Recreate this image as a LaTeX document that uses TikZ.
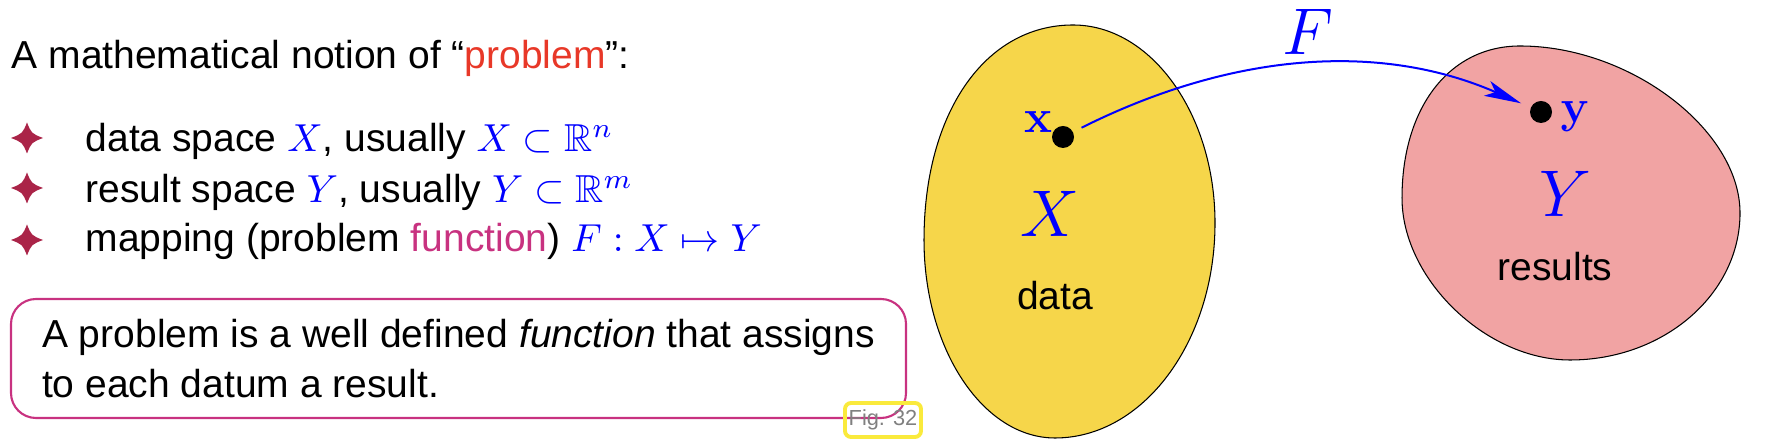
\RequirePackage{fix-cm}
\documentclass[tikz,border=0pt]{standalone}
\usepackage{amssymb}
\usepackage[no-math]{fontspec}
\setmainfont{Liberation Sans}
\usetikzlibrary{arrows.meta}

\definecolor{problemRed}{RGB}{232,56,40}
\definecolor{functionPink}{RGB}{200,50,128}
\definecolor{starRed}{RGB}{170,36,72}
\definecolor{mathBlue}{RGB}{0,0,255}
\definecolor{dataYellow}{RGB}{246,214,74}
\definecolor{resultPink}{RGB}{241,163,163}
\definecolor{tagYellow}{RGB}{250,234,60}

\newcommand{\inblue}[1]{\textcolor{mathBlue}{#1}}

\begin{document}
\begin{tikzpicture}[body/.style={anchor=base west, inner sep=0pt,
                                 font=\fontsize{11.1}{14.2}\selectfont},
                    defbox/.style={draw=functionPink, line width=0.6pt,
                                   rounded corners=0.25cm, align=left,
                                   minimum width=8.95cm, minimum height=1.19cm,
                                   font=\fontsize{11.1}{14.2}\selectfont},
                    figtag/.style={draw=tagYellow, line width=1.1pt,
                                   rounded corners=0.06cm, text=gray,
                                   minimum width=0.76cm, minimum height=0.34cm,
                                   inner sep=0pt, font=\fontsize{6.2}{7}\selectfont},
                    blob/.style={draw=black, line width=0.3pt},
                    dot/.style={circle, fill=black, inner sep=0pt,
                                minimum size=0.22cm},
                    setname/.style={anchor=base, text=mathBlue,
                                    font=\fontsize{18.8}{22}\selectfont},
                    pointname/.style={anchor=base, text=mathBlue,
                                      font=\fontsize{13.4}{16}\selectfont},
                    caption/.style={anchor=base,
                                    font=\fontsize{11.1}{14.2}\selectfont}]
  \useasboundingbox (0, 0) rectangle (17.7, 4.48);

  % Notion of a problem.
  \node at (0.11, 3.79) [body, name=Heading]
        {A mathematical notion of “\textcolor{problemRed}{problem}”:};
  \node at (0.85, 2.96) [body, name=DataSpace]
        {data space \inblue{$X$}, usually \inblue{$X \subset \mathbb{R}^n$}};
  \node at (0.85, 2.45) [body, name=ResultSpace]
        {result space \inblue{$Y$}, usually \inblue{$Y \subset \mathbb{R}^m$}};
  \node at (0.85, 1.96) [body, name=Mapping]
        {mapping (problem \textcolor{functionPink}{function}) \inblue{$F : X \mapsto Y$}};

  % Bullets.
  \foreach \y in {3.10, 2.60, 2.08}
    \fill [starRed, shift={(0.27, \y)}]
          (0, 0.155) .. controls (0.045, 0.045) .. (0.16, 0)
          .. controls (0.045, -0.045) .. (0, -0.155)
          .. controls (-0.045, -0.045) .. (-0.16, 0)
          .. controls (-0.045, 0.045) .. (0, 0.155) -- cycle;

  % Definition.
  \node at (4.585, 0.895) [defbox, name=Definition]
        {A problem is a well defined \textit{function} that assigns\\
         to each datum a result.};
  \node at (8.83, 0.28) [figtag, name=FigTag] {Fig. 32};

  % Data and result sets.
  \filldraw [blob, fill=dataYellow]
        (10.73, 4.23) .. controls (11.51, 4.23) and (12.15, 3.34) .. (12.15, 2.25)
        .. controls (12.15, 1.06) and (11.43, 0.10) .. (10.55, 0.10)
        .. controls (9.83, 0.10) and (9.24, 0.99) .. (9.24, 2.08)
        .. controls (9.24, 3.35) and (9.85, 4.23) .. (10.73, 4.23) -- cycle;
  \filldraw [blob, fill=resultPink]
        (15.20, 4.02) .. controls (16.30, 4.02) and (17.40, 3.18) .. (17.40, 2.35)
        .. controls (17.40, 1.54) and (16.64, 0.88) .. (15.70, 0.88)
        .. controls (14.86, 0.88) and (14.02, 1.69) .. (14.02, 2.50)
        .. controls (14.02, 3.40) and (14.49, 4.02) .. (15.20, 4.02) -- cycle;

  \node at (10.50, 2.11) [setname, name=DataSet] {$X$};
  \node at (10.55, 1.38) [caption, name=DataText] {data};
  \node at (15.65, 2.31) [setname, name=ResultSet] {$Y$};
  \node at (15.55, 1.67) [caption, name=ResultText] {results};

  % Points and the mapping.
  \node at (10.63, 3.11) [dot, name=Datum] {};
  \node at (15.41, 3.36) [dot, name=Result] {};
  \node at (10.38, 3.15) [pointname, name=DatumName] {$\mathbf{x}$};
  \node at (15.75, 3.25) [pointname, name=ResultName] {$\mathbf{y}$};

  \draw [-{Stealth[length=0.37cm, width=0.16cm, inset=0.09cm]},
         mathBlue, line width=0.57pt, shorten <=0.09cm, shorten >=0.10cm]
        (Datum) .. controls (12.35, 3.97) and (13.82, 4.055) .. (Result);
  \node at (13.08, 3.93) [setname, name=MapName] {$F$};
\end{tikzpicture}
\end{document}
